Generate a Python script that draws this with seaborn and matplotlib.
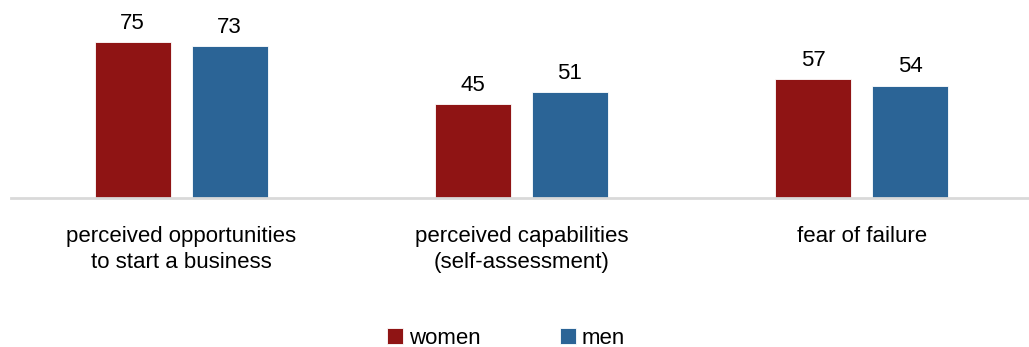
import matplotlib
matplotlib.use("Agg")
import matplotlib.pyplot as plt
import seaborn as sns
import pandas as pd

categories = ["perceived opportunities\nto start a business",
              "perceived capabilities\n(self-assessment)",
              "fear of failure"]
women = [75, 45, 57]
men = [73, 51, 54]
series_names = ["women", "men"]
colors = ["#8f1414", "#2b6496"]

df = pd.DataFrame({
    "category": categories * 2,
    "value": women + men,
    "gender": [series_names[0]] * 3 + [series_names[1]] * 3,
})

sns.set_theme(style="white")
plt.rcParams["font.family"] = ["Liberation Sans", "DejaVu Sans"]
plt.rcParams["text.color"] = "#000000"

fig = plt.figure(figsize=(10.29, 3.47), dpi=100)
ax = fig.add_axes([11 / 1029, 149 / 347, 1021 / 1029, 198 / 347])

sns.barplot(data=df, x="category", y="value", hue="gender",
            palette=colors, width=0.57, gap=0.217, ax=ax,
            edgecolor="white", linewidth=0.6, saturation=1)

for cont in ax.containers:
    ax.bar_label(cont, labels=[f"{v:.0f}" for v in cont.datavalues],
                 padding=6, fontsize=16, color="#000000")

ax.set_ylim(0, 95.2)
ax.set_xlim(-0.5, 2.5)
ax.set_xlabel("")
ax.set_ylabel("")
ax.set_yticks([])
ax.tick_params(axis="x", length=0, pad=20, labelsize=16, labelcolor="#000000")
for lbl in ax.get_xticklabels():
    lbl.set_linespacing(1.35)
for side in ["top", "right", "left"]:
    ax.spines[side].set_visible(False)
ax.spines["bottom"].set_color("#d9d9d9")
ax.spines["bottom"].set_linewidth(2)

sns.move_legend(ax, "center", bbox_to_anchor=(506 / 1029, 1 - 338 / 347),
                bbox_transform=fig.transFigure, ncol=2, frameon=False,
                title=None, fontsize=16, handlelength=0.7, handleheight=0.7,
                handletextpad=0.25, columnspacing=3.6, labelcolor="#000000")

fig.savefig("out.png", dpi=100)
